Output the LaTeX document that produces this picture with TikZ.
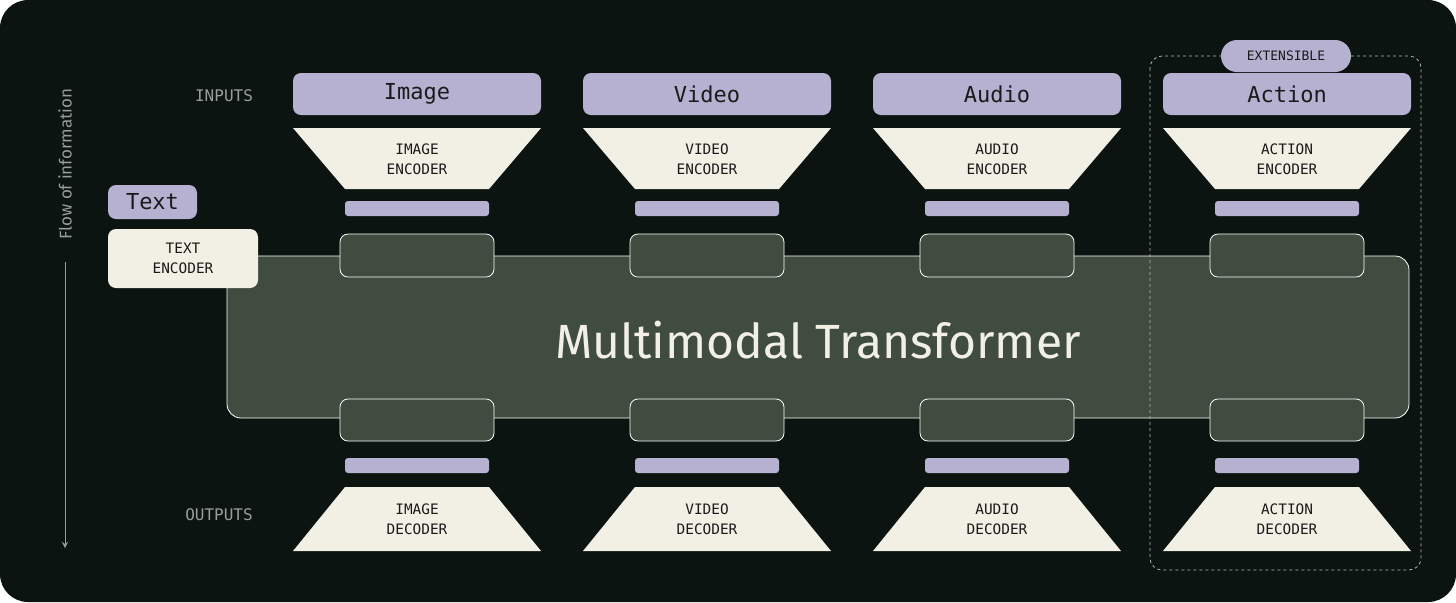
\documentclass[tikz,border=0pt]{standalone}
\usepackage{fontspec}
\setmainfont{Fira Sans}
\setmonofont{DejaVu Sans Mono}
\usetikzlibrary{positioning}
\definecolor{bg}{HTML}{0B1410}
\definecolor{lav}{HTML}{B6B1D1}
\definecolor{cream}{HTML}{F2F0E5}
\definecolor{moss}{HTML}{3F4C3F}
\definecolor{ink}{HTML}{1A1A1A}
\definecolor{dim}{HTML}{9A9E9A}

\begin{document}
\begin{tikzpicture}[x=0.5pt, y=-0.5pt,
	tag/.style = {fill=lav, rounded corners=4pt, inner sep=0pt, font=\ttfamily\fontsize{11}{11}\selectfont, text=ink},
	coder/.style = {fill=cream},
	codetext/.style = {align=center, font=\ttfamily\fontsize{7.2}{10}\selectfont, text=ink},
	bar/.style = {fill=lav, rounded corners=1.5pt},
	port/.style = {fill=moss, draw=white, line width=0.4pt, rounded corners=4pt}]

	\fill [white] (0,0) rectangle (1456,602);
	\fill [bg, rounded corners=14pt] (0,0) rectangle (1456,602);

	% transformer body
	\draw [fill=moss, draw=white, line width=0.4pt, rounded corners=7pt] (227,256) rectangle (1409,418);
	\node (core) at (818,340) {\fontsize{24}{24}\selectfont\color{cream} Multimodal Transformer};

	% modalities
	\foreach \name/\Name/\Cap/\x in {image/Image/IMAGE/417, video/Video/VIDEO/707, audio/Audio/AUDIO/997, action/Action/ACTION/1287} {
		\node [tag, minimum width=124pt, minimum height=21pt] (\name-in) at (\x,94) {\Name};
		\fill [coder] (\x-124,128) -- (\x+124,128) -- (\x+72,189) -- (\x-72,189) -- cycle;
		\node [codetext] (\name-enc) at (\x,159) {\Cap\\ENCODER};
		\fill [bar] (\x-72,201) rectangle (\x+72,216);
		\draw [port] (\x-77,234) rectangle (\x+77,277);
		\draw [port] (\x-77,399) rectangle (\x+77,441);
		\fill [bar] (\x-72,458) rectangle (\x+72,473);
		\fill [coder] (\x-72,487) -- (\x+72,487) -- (\x+124,551) -- (\x-124,551) -- cycle;
		\node [codetext] (\name-dec) at (\x,519) {\Cap\\DECODER};
	}

	% text branch
	\node [tag, minimum width=44.5pt, minimum height=17pt] (text-in) at (152.5,202) {Text};
	\fill [cream, rounded corners=4pt] (108,229) rectangle (258,288);
	\node [codetext] (text-enc) at (183,258.5) {TEXT\\ENCODER};

	% side labels
	\node [font=\ttfamily\fontsize{8}{8}\selectfont, text=dim] (inputs) at (224,96) {INPUTS};
	\node [font=\ttfamily\fontsize{8}{8}\selectfont, text=dim] (outputs) at (219,515) {OUTPUTS};
	\node [rotate=90, font=\fontsize{8.5}{8.5}\selectfont, text=dim] (flow) at (65,164) {Flow of information};
	\coordinate (flow-end) at (65,548);
	\draw [dim, line width=0.4pt, -stealth] (65,262) -- (flow-end);

	% extensible frame
	\draw [white!70!bg, dash pattern=on 1.5pt off 1.5pt, line width=0.4pt, rounded corners=6pt] (1150,56) rectangle (1421,570);
	\node [fill=lav, rounded corners=8pt, minimum width=65pt, minimum height=16pt, inner sep=0pt,
		font=\ttfamily\fontsize{6.5}{6.5}\selectfont, text=ink] (extensible) at (1286,56) {EXTENSIBLE};

\end{tikzpicture}
\end{document}
